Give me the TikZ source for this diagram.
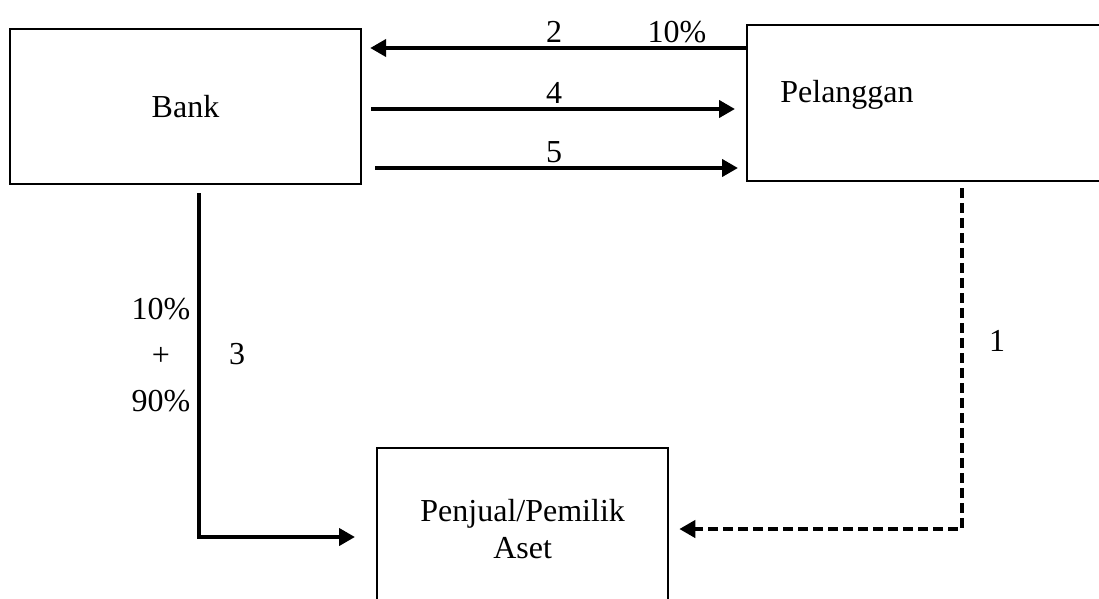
\documentclass[tikz,border=0pt]{standalone}
\usepackage{fontspec}
\setmainfont{Liberation Serif}
\usetikzlibrary{arrows.meta}
\usetikzlibrary{positioning}
\tikzset{
  flow chart/.style={
    box/.style={rectangle, draw, line width=2.3pt, inner sep=0pt},
    link/.style={line width=4pt, -{Triangle[length=16pt,width=17pt]}},
    dashed link/.style={link, dash pattern=on 10pt off 5pt},
    tag/.style={font=\fontsize{32}{37}\selectfont},
  }
}

\begin{document}
\begin{tikzpicture}[flow chart, x=1pt, y=-1pt, font=\fontsize{32}{37}\selectfont]
    \useasboundingbox (0,0) rectangle (1099,598);

    % boxes
    \node[box, minimum width=351pt, minimum height=155pt] (bank) at (185.5,106.5) {Bank};
    \node[box, minimum width=380pt, minimum height=156pt, anchor=north west] (pelanggan) at (746,24) {};
    \node[tag] (pelangganText) at (847,95) {Pelanggan};
    \node[box, minimum width=291pt, minimum height=162pt, anchor=north west, align=center] (penjual) at (376,447) {Penjual/Pemilik\\Aset};

    % rows and corners
    \coordinate (r2) at (0,48);
    \coordinate (r4) at (0,109);
    \coordinate (r5) at (0,168);
    \coordinate (c3) at (199,537);
    \coordinate (c1) at (962,529);

    % bank <-> pelanggan
    \draw[link, shorten >=8pt] (pelanggan.west |- r2) -- node[tag, above]{2} node[tag, pos=.18, above]{10\%} (bank.east |- r2);
    \draw[link, shorten <=9pt, shorten >=11pt] (bank.east |- r4) -- node[tag, above]{4} (pelanggan.west |- r4);
    \draw[link, shorten <=13pt, shorten >=8pt] (bank.east |- r5) -- node[tag, above]{5} (pelanggan.west |- r5);

    % bank -> penjual
    \draw[link, shorten <=8pt, shorten >=21pt] (bank.south -| c3) -- (c3) -- (penjual.west |- c3);
    \node[tag, align=center, font=\fontsize{32}{46}\selectfont] (pct) at (161,355) {10\%\\+\\90\%};
    \node[tag] (three) at (237,354) {3};

    % pelanggan -> penjual
    \draw[dashed link, shorten <=6pt, shorten >=10pt] (pelanggan.south -| c1) -- (c1) -- (penjual.east |- c1);
    \node[tag] (one) at (997,341) {1};
\end{tikzpicture}
\end{document}
